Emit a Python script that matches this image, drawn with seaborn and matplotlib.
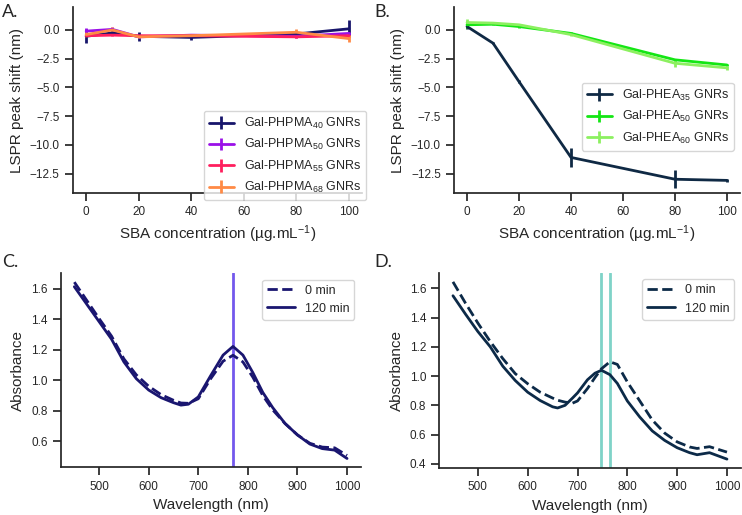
import numpy as np
import pandas as pd
import seaborn as sns
import matplotlib.pyplot as plt

# SBA binding: LSPR peak shift vs SBA concentration
conc = [0, 10, 20, 40, 80, 100]

phpma_labels = ['Gal-PHPMA$_{40}$ GNRs', 'Gal-PHPMA$_{50}$ GNRs',
                'Gal-PHPMA$_{55}$ GNRs', 'Gal-PHPMA$_{68}$ GNRs']
phpma40 = [-0.55, -0.25, -0.55, -0.65, -0.35, 0.1]
phpma40_err = [0.6, 0.2, 0.4, 0.2, 0.15, 0.75]
phpma50 = [-0.1, 0.05, -0.6, -0.45, -0.55, -0.3]
phpma50_err = [0.3, 0.2, 0.1, 0.1, 0.15, 0.1]
phpma55 = [-0.5, -0.45, -0.5, -0.5, -0.6, -0.5]
phpma55_err = [0.1, 0.1, 0.1, 0.1, 0.1, 0.1]
phpma68 = [-0.4, 0.0, -0.6, -0.5, -0.2, -0.75]
phpma68_err = [0.2, 0.25, 0.1, 0.1, 0.3, 0.3]

phea_labels = ['Gal-PHEA$_{35}$ GNRs', 'Gal-PHEA$_{50}$ GNRs', 'Gal-PHEA$_{60}$ GNRs']
phea35 = [0.3, -1.15, -4.5, -11.1, -13.0, -13.1]
phea35_err = [0.2, 0.1, 0.1, 0.85, 0.8, 0.1]
phea50 = [0.45, 0.5, 0.3, -0.3, -2.6, -3.05]
phea50_err = [0.3, 0.1, 0.1, 0.1, 0.1, 0.1]
phea60 = [0.65, 0.6, 0.45, -0.4, -2.9, -3.3]
phea60_err = [0.3, 0.1, 0.1, 0.1, 0.3, 0.2]

# UV-vis spectra, 0 min vs 120 min
wl_c = [450, 475, 500, 525, 550, 575, 600, 625, 650, 665, 680, 700, 725,
        750, 770, 790, 810, 830, 850, 875, 900, 925, 950, 975, 1000]
abs_c_0 = [1.645, 1.525, 1.405, 1.29, 1.14, 1.035, 0.96, 0.905, 0.868, 0.85, 0.848, 0.878, 1.01,
           1.125, 1.164, 1.12, 1.02, 0.9, 0.805, 0.715, 0.64, 0.585, 0.56, 0.555, 0.505]
abs_c_120 = [1.615, 1.50, 1.385, 1.27, 1.12, 1.01, 0.935, 0.885, 0.852, 0.836, 0.842, 0.89, 1.03,
             1.165, 1.222, 1.165, 1.05, 0.92, 0.82, 0.715, 0.64, 0.58, 0.55, 0.54, 0.485]
peak_c = [770]

wl_d = [450, 475, 500, 525, 550, 575, 600, 625, 650, 660, 675, 690, 700, 720,
        735, 748, 765, 780, 800, 825, 850, 875, 900, 925, 940, 965, 1000]
abs_d_0 = [1.645, 1.50, 1.363, 1.236, 1.12, 1.017, 0.948, 0.89, 0.85, 0.835, 0.822, 0.815, 0.83, 0.915,
           0.99, 1.05, 1.098, 1.08, 0.96, 0.83, 0.70, 0.61, 0.55, 0.515, 0.505, 0.517, 0.48]
abs_d_120 = [1.55, 1.425, 1.305, 1.20, 1.068, 0.97, 0.89, 0.833, 0.79, 0.782, 0.80, 0.85, 0.885, 0.975,
             1.02, 1.04, 1.01, 0.95, 0.83, 0.72, 0.625, 0.56, 0.51, 0.476, 0.462, 0.476, 0.432]
peaks_d = [748, 765]

sns.set_theme(style='ticks')
plt.rcParams['font.family'] = ['Liberation Sans', 'DejaVu Sans']
plt.rcParams['mathtext.default'] = 'regular'
plt.rcParams['xtick.labelsize'] = 8.5
plt.rcParams['ytick.labelsize'] = 8.5
plt.rcParams['axes.labelsize'] = 11
plt.rcParams['legend.fontsize'] = 9

fig, axes = plt.subplots(2, 2, figsize=(7.42, 5.15), dpi=100)
ax1, ax2, ax3, ax4 = axes.flatten()
ax1.set_position([0.0984, 0.6252, 0.3895, 0.3612])
ax2.set_position([0.6119, 0.6252, 0.3854, 0.3612])
ax3.set_position([0.0818, 0.0926, 0.4043, 0.3767])
ax4.set_position([0.592, 0.0913, 0.4062, 0.3786])

# A
cols_a = ['#17156b', '#9a10e8', '#ff1f5e', '#ff8a45']
for y, e, c, lab in zip([phpma40, phpma50, phpma55, phpma68],
                        [phpma40_err, phpma50_err, phpma55_err, phpma68_err],
                        cols_a, phpma_labels):
    ax1.errorbar(conc, y, yerr=e, color=c, lw=2, elinewidth=2, label=lab)
ax1.legend(loc='lower right', bbox_to_anchor=(1.014, -0.038), borderaxespad=0)

# B
cols_b = ['#0f2944', '#14e614', '#8cf060']
for y, e, c, lab in zip([phea35, phea50, phea60],
                        [phea35_err, phea50_err, phea60_err], cols_b, phea_labels):
    ax2.errorbar(conc, y, yerr=e, color=c, lw=2, elinewidth=2, label=lab)
ax2.legend(loc='center right', bbox_to_anchor=(1.0, 0.41))

for ax in (ax1, ax2):
    ax.set_ylim(-14.2, 2.0)
    ax.set_yticks([0.0, -2.5, -5.0, -7.5, -10.0, -12.5])
    ax.set_xticks([0, 20, 40, 60, 80, 100])
    ax.set_xlabel('SBA concentration (µg.mL$^{-1}$)')
    ax.set_ylabel('LSPR peak shift (nm)')

# C and D
spec_c = pd.DataFrame({'wl': wl_c * 2, 'abs': abs_c_0 + abs_c_120,
                       'time': ['0 min'] * len(wl_c) + ['120 min'] * len(wl_c)})
spec_d = pd.DataFrame({'wl': wl_d * 2, 'abs': abs_d_0 + abs_d_120,
                       'time': ['0 min'] * len(wl_d) + ['120 min'] * len(wl_d)})

for ax, df, col, vcol, peaks, yt in [
        (ax3, spec_c, '#1a1670', '#7358ec', peak_c, [0.6, 0.8, 1.0, 1.2, 1.4, 1.6]),
        (ax4, spec_d, '#0c2a48', '#7fd3c8', peaks_d, [0.4, 0.6, 0.8, 1.0, 1.2, 1.4, 1.6])]:
    for p in peaks:
        ax.axvline(p, color=vcol, lw=2, zorder=1)
    sns.lineplot(data=df, x='wl', y='abs', style='time', color=col, lw=2,
                 dashes={'0 min': (3.7, 1.6), '120 min': ''}, ax=ax)
    ax.legend(title=None, loc='upper right', handlelength=2.2)
    ax.set_xlabel('Wavelength (nm)')
    ax.set_ylabel('Absorbance')
    ax.set_xticks([500, 600, 700, 800, 900, 1000])
    ax.set_yticks(yt)
    ax.set_yticklabels([f'{v:.1f}' for v in yt])

sns.despine(fig)

for x, y, t in [(0.003, 0.977, 'A.'), (0.505, 0.977, 'B.'),
                (0.003, 0.491, 'C.'), (0.505, 0.491, 'D.')]:
    fig.text(x, y, t, fontsize=13, family='Lato', va='center')

fig.savefig('out.png', dpi=100)
